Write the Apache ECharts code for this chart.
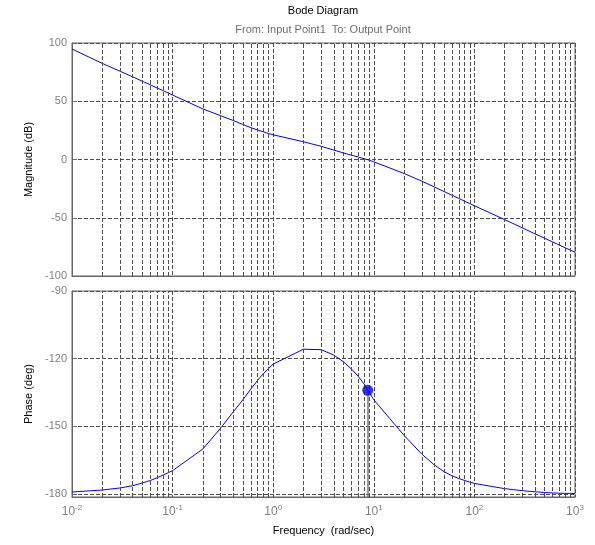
<!DOCTYPE html>
<html><head><meta charset="utf-8">
<script src="https://cdn.jsdelivr.net/npm/echarts@6/dist/echarts.min.js"></script>
<style>html,body{margin:0;padding:0;background:#fff}#c{width:595px;height:545px}</style>
</head><body><div id="c"></div>
<script>
// ---- data ----
const freqs = [0.01,0.02,0.03,0.04,0.05,0.06,0.07,0.08,0.09,
  0.1,0.2,0.3,0.4,0.5,0.6,0.7,0.8,0.9,
  1,2,3,4,5,6,7,8,9,
  10,20,30,40,50,60,70,80,90,
  100,200,300,400,500,600,700,800,900,1000];
const magnitudeDb = [94.8,82.5,75.8,71.0,67.2,64.1,61.4,59.2,57.2,
  55.3,43.4,37.6,33.5,30.0,27.3,25.3,23.7,22.3,
  21.2,15.2,11.3,8.1,5.6,3.7,2.2,0.7,-0.6,
  -2.0,-12.0,-18.6,-23.6,-27.5,-30.7,-33.4,-35.8,-37.8,
  -39.7,-51.6,-58.7,-63.8,-67.6,-70.8,-73.4,-75.8,-77.8,-79.6];
const phaseDeg = [-179.1,-178.2,-177.3,-176.3,-175.1,-174.0,-172.8,-171.6,-170.6,
  -169.6,-160.0,-150.8,-143.6,-138.2,-133.4,-129.6,-126.6,-124.3,
  -122.4,-115.8,-116.0,-118.4,-121.4,-124.6,-127.8,-131.2,-135.0,
  -138.2,-154.0,-162.3,-167.1,-170.1,-171.9,-173.1,-174.0,-174.7,
  -175.3,-177.6,-178.5,-179.0,-179.3,-179.5,-179.6,-179.7,-179.7,-179.8];
const minorFreqs = [0.02,0.03,0.04,0.05,0.06,0.07,0.08,0.09,
  0.2,0.3,0.4,0.5,0.6,0.7,0.8,0.9,
  2,3,4,5,6,7,8,9,
  20,30,40,50,60,70,80,90,
  200,300,400,500,600,700,800,900];
const magTicks = [-100,-50,0,50,100];
const phaseTicks = [-180,-150,-120,-90];
const tipFreq = [8.7];
const tipPhase = [-134.0];
const phaseAxisMin = -181.3;

// ---- styling ----
const FONT = 'Liberation Sans, Arial, sans-serif';
const GRAY = '#808080';
const GRIDC = '#4d4d4d';
const DASH = [4, 2];
const BLUE = '#0000ff';

const chart = echarts.init(document.getElementById('c'), null, {renderer: 'canvas'});

const minorLines = () => minorFreqs.map(f => ({xAxis: f}));

function xAxisCfg(gridIndex, showLabels) {
  return {
    type: 'log', logBase: 10, gridIndex, min: 0.01, max: 1000,
    axisLine: {show: true, onZero: false, lineStyle: {color: '#666', width: 1}},
    axisTick: {show: false},
    splitLine: {show: true, lineStyle: {color: GRIDC, type: DASH, width: 1}},
    axisLabel: showLabels ? {
      show: true, margin: 7, fontFamily: FONT,
      formatter: v => '{b|10}{s|' + Math.round(Math.log10(v)) + '}',
      rich: {
        b: {fontSize: 12, color: GRAY, fontFamily: FONT, lineHeight: 16},
        s: {fontSize: 8, color: GRAY, fontFamily: FONT, lineHeight: 8, verticalAlign: 'top'}
      }
    } : {show: false},
    name: showLabels ? 'Frequency  (rad/sec)' : '',
    nameLocation: 'middle', nameGap: 28,
    nameTextStyle: {color: '#000', fontSize: 11, fontFamily: FONT}
  };
}

const option = {
  animation: false,
  backgroundColor: '#fff',
  graphic: [
    {type: 'text', x: 323, y: 5, silent: true,
     style: {text: 'Bode Diagram', fill: '#000', font: '11px ' + FONT, align: 'center', textAlign: 'center', verticalAlign: 'top', textVerticalAlign: 'top'}},
    {type: 'text', x: 323, y: 24, silent: true,
     style: {text: 'From: Input Point1  To: Output Point', fill: '#6e6e6e', font: '11px ' + FONT, align: 'center', textAlign: 'center', verticalAlign: 'top', textVerticalAlign: 'top'}}
  ],
  grid: [
    {left: 72, right: 20, top: 43, height: 233, show: true, borderColor: '#666', borderWidth: 1, backgroundColor: 'transparent'},
    {left: 72, right: 20, top: 291, height: 206, show: true, borderColor: '#666', borderWidth: 1, backgroundColor: 'transparent'}
  ],
  xAxis: [xAxisCfg(0, false), xAxisCfg(1, true)],
  yAxis: [
    {type: 'value', gridIndex: 0, min: magTicks[0], max: magTicks[magTicks.length - 1], interval: 50,
     axisLine: {show: true, onZero: false, lineStyle: {color: '#666'}},
     axisTick: {show: true, inside: true, length: 5, lineStyle: {color: '#666'}},
     axisLabel: {color: GRAY, fontSize: 11, fontFamily: FONT, margin: 5},
     splitLine: {show: true, lineStyle: {color: GRIDC, type: DASH, width: 1}},
     name: 'Magnitude (dB)', nameLocation: 'middle', nameGap: 37,
     nameTextStyle: {color: '#000', fontSize: 11, fontFamily: FONT}},
    {type: 'value', gridIndex: 1, min: phaseAxisMin, max: phaseTicks[phaseTicks.length - 1],
     axisLine: {show: true, onZero: false, lineStyle: {color: '#666'}},
     axisTick: {show: true, inside: true, length: 5, lineStyle: {color: '#666'}, customValues: phaseTicks},
     axisLabel: {color: GRAY, fontSize: 11, fontFamily: FONT, margin: 5, customValues: phaseTicks},
     splitLine: {show: true, lineStyle: {color: GRIDC, type: DASH, width: 1}},
     name: 'Phase (deg)', nameLocation: 'middle', nameGap: 37,
     nameTextStyle: {color: '#000', fontSize: 11, fontFamily: FONT}}
  ],
  series: [
    {name: 'Magnitude', type: 'line', xAxisIndex: 0, yAxisIndex: 0,
     data: freqs.map((f, i) => [f, magnitudeDb[i]]),
     showSymbol: false, smooth: false, lineStyle: {color: BLUE, width: 1}, itemStyle: {color: BLUE},
     markLine: {silent: true, symbol: 'none', label: {show: false}, animation: false,
       lineStyle: {color: GRIDC, type: DASH, width: 1}, data: minorLines()}},
    {name: 'Phase', type: 'line', xAxisIndex: 1, yAxisIndex: 1,
     data: freqs.map((f, i) => [f, phaseDeg[i]]),
     showSymbol: false, smooth: false, lineStyle: {color: BLUE, width: 1}, itemStyle: {color: BLUE},
     markLine: {silent: true, symbol: 'none', label: {show: false}, animation: false,
       lineStyle: {color: GRIDC, type: DASH, width: 1}, data: minorLines()}},
    {name: 'Data tip', type: 'scatter', xAxisIndex: 1, yAxisIndex: 1, z: 5,
     data: tipFreq.map((f, i) => [f, tipPhase[i]]),
     symbol: 'circle', symbolSize: 11, itemStyle: {color: BLUE},
     markLine: {silent: true, symbol: 'none', label: {show: false}, animation: false,
       lineStyle: {color: '#777', type: 'solid', width: 1.5},
       data: tipFreq.map((f, i) => [{coord: [f, tipPhase[i]]}, {coord: [f, phaseAxisMin]}])}}
  ]
};
chart.setOption(option);
</script>
</body></html>
